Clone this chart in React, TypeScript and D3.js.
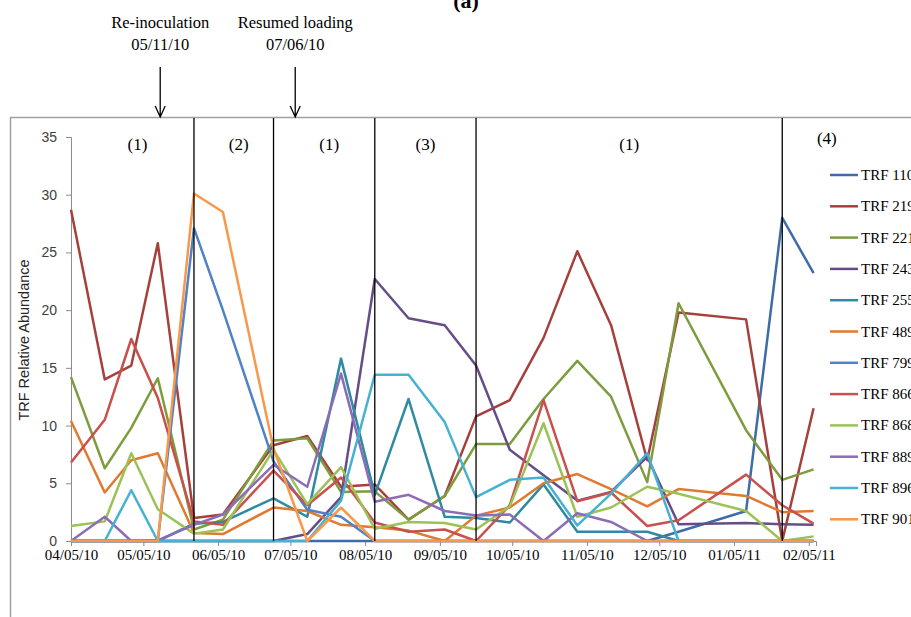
import React, { useEffect, useRef } from 'react';
import * as d3 from 'd3';

// sampling dates
const sampleDates = [
  '2010-04-05', '2010-04-19', '2010-04-30', '2010-05-11', '2010-05-26', '2010-06-07',
  '2010-06-28', '2010-07-12', '2010-07-26', '2010-08-09', '2010-08-23', '2010-09-07',
  '2010-09-20', '2010-10-04', '2010-10-18', '2010-11-01', '2010-11-15', '2010-11-30',
  '2010-12-13', '2011-01-10', '2011-01-25', '2011-02-07',
];

const trf110 = [0, 0, 0, 0, 0, 0, 0, 0, 0, 0, 0, 0, 0, 0, 0, 0, 0, 0, 0.8, 2.6, 28.0, 23.2];
const trf219 = [28.7, 14.0, 15.2, 25.8, 2.0, 2.3, 8.3, 9.1, 4.7, 4.9, 1.85, 3.9, 10.8, 12.2, 17.6, 25.1, 18.7, 7.0, 19.8, 19.2, 0, 11.5];
const trf221 = [14.2, 6.3, 9.8, 14.1, 1.0, 1.85, 8.7, 8.9, 4.25, 4.3, 1.85, 3.9, 8.4, 8.4, 12.3, 15.6, 12.5, 5.1, 20.6, 9.6, 5.3, 6.2];
const trf243 = [0, 0, 0, 0, 0, 0, 0, 0.6, 3.8, 22.7, 19.3, 18.7, 15.2, 7.9, 5.7, 3.5, 4.25, 7.3, 1.45, 1.55, 1.45, 1.4];
const trf255 = [0, 0, 0, 0, 1.5, 1.65, 3.7, 2.1, 15.8, 4.0, 12.3, 2.1, 2.0, 1.6, 4.9, 0.8, 0.8, 0.8, 0, 0, 0, 0];
const trf489 = [10.4, 4.2, 7.0, 7.6, 0.7, 0.6, 2.9, 2.6, 1.4, 1.2, 0.9, 0, 2.2, 2.9, 5.0, 5.8, 4.5, 3.0, 4.5, 3.9, 2.5, 2.6];
const trf799 = [0, 0, 0, 0, 27.1, 20.0, 6.9, 2.7, 2.1, 0, 0, 0, 0, 0, 0, 0, 0, 0, 0, 0, 0, 0];
const trf866 = [6.8, 10.5, 17.5, 12.4, 1.7, 1.4, 6.1, 3.1, 5.5, 1.6, 0.8, 1.0, 0, 3.1, 12.2, 3.45, 4.2, 1.3, 1.8, 5.75, 3.1, 1.5];
const trf868 = [1.3, 1.7, 7.6, 2.75, 0.64, 1.0, 7.9, 3.2, 6.4, 1.07, 1.65, 1.56, 1.0, 3.0, 10.2, 2.1, 2.9, 4.7, 4.1, 2.6, 0, 0.4];
const trf889 = [0, 2.1, 0, 0.06, 1.4, 2.3, 6.6, 4.7, 14.5, 3.4, 4.0, 2.6, 2.2, 2.3, 0, 2.4, 1.65, 0, 0, 0, 0, 0];
const trf896 = [0, 0, 4.4, 0, 0, 0, 0, 0, 3.5, 14.4, 14.4, 10.3, 3.8, 5.3, 5.5, 1.35, 4.1, 7.6, 0, 0, 0, 0];
const trf901 = [0, 0, 0, 0, 30.1, 28.5, 8.0, 0, 2.9, 0, 0, 0, 0, 0, 0, 0, 0, 0, 0, 0, 0, 0];

const seriesNames = ['TRF 110', 'TRF 219', 'TRF 221', 'TRF 243', 'TRF 255', 'TRF 489',
  'TRF 799', 'TRF 866', 'TRF 868', 'TRF 889', 'TRF 896', 'TRF 901'];
const seriesValues = [trf110, trf219, trf221, trf243, trf255, trf489,
  trf799, trf866, trf868, trf889, trf896, trf901];
const seriesColors = ['#3d6ca9', '#a6403d', '#7d9c3e', '#664d88', '#2f8aa2', '#df7a30',
  '#4f82c6', '#c8504d', '#9cc256', '#8c6cb6', '#46b2d2', '#f8984a'];

const monthTicks = ['2010-04-05', '2010-05-05', '2010-06-05', '2010-07-05', '2010-08-05', '2010-09-05',
  '2010-10-05', '2010-11-05', '2010-12-05', '2011-01-05', '2011-02-05'];
const yTicks = [0, 5, 10, 15, 20, 25, 30, 35];

// period boundaries and labels
const periodBreaks = ['2010-05-26', '2010-06-28', '2010-08-09', '2010-09-20', '2011-01-25'];
const periodLabels = ['(1)', '(2)', '(1)', '(3)', '(1)', '(4)'];

const events = [
  { date: '2010-05-12', lines: ['Re-inoculation', '05/11/10'] },
  { date: '2010-07-07', lines: ['Resumed loading', '07/06/10'] },
];

const App = () => {
  const svgRef = useRef<SVGSVGElement>(null);
  const width = 911;
  const height = 617;

  useEffect(() => {
    const svg = d3.select(svgRef.current);
    svg.selectAll('*').remove();

    const parse = d3.timeParse('%Y-%m-%d');
    const fmt = d3.timeFormat('%m/%d/%y');

    const x = d3.scaleTime()
      .domain([parse('2010-04-05')!, parse('2011-02-08')!])
      .range([71, 816]);
    const y = d3.scaleLinear().domain([0, 35]).range([541, 137]);

    // chart area frame
    svg.append('path')
      .attr('d', `M10.5,${height} V117.5 H${width}`)
      .attr('fill', 'none')
      .attr('stroke', '#a0a0a0')
      .attr('stroke-width', 1.5);

    // title (cut off at top, as in the figure)
    svg.append('text')
      .attr('x', 466).attr('y', 8)
      .attr('text-anchor', 'middle')
      .attr('font-family', 'Liberation Serif')
      .attr('font-weight', 'bold')
      .attr('font-size', 22)
      .text('(a)');

    // y axis
    const yAxis = d3.axisLeft(y).tickValues(yTicks).tickSize(5).tickPadding(9);
    const gy = svg.append('g').attr('transform', 'translate(71,0)').call(yAxis);
    gy.select('.domain').attr('stroke', '#8c8c8c');
    gy.selectAll('.tick line').attr('stroke', '#8c8c8c');
    gy.selectAll('.tick text')
      .attr('font-family', 'Liberation Sans')
      .attr('font-size', 14)
      .attr('fill', '#404040');

    // x axis
    const xAxis = d3.axisBottom(x)
      .tickValues(monthTicks.map(d => parse(d)!))
      .tickFormat(d => fmt(d as Date))
      .tickSize(5)
      .tickPadding(3);
    const gx = svg.append('g').attr('transform', 'translate(0,541)').call(xAxis);
    gx.select('.domain').attr('stroke', '#8c8c8c');
    gx.selectAll('.tick line').attr('stroke', '#8c8c8c');
    gx.selectAll('.tick text')
      .attr('font-family', 'Liberation Serif')
      .attr('font-size', 15)
      .attr('fill', '#000');

    // y axis title
    svg.append('text')
      .attr('transform', 'translate(29,340) rotate(-90)')
      .attr('text-anchor', 'middle')
      .attr('font-family', 'Liberation Sans')
      .attr('font-size', 14.5)
      .attr('fill', '#262626')
      .text('TRF Relative Abundance');

    // series lines
    const dates = sampleDates.map(d => parse(d)!);
    const line = d3.line<number>()
      .x((_, i) => x(dates[i]))
      .y(d => y(d));

    seriesValues.forEach((vals, i) => {
      svg.append('path')
        .datum(vals)
        .attr('fill', 'none')
        .attr('stroke', seriesColors[i])
        .attr('stroke-width', 2.5)
        .attr('stroke-linejoin', 'round')
        .attr('d', line);
    });

    // period break lines
    const breaks = periodBreaks.map(d => parse(d)!);
    svg.selectAll('.break')
      .data(breaks)
      .enter()
      .append('line')
      .attr('x1', d => x(d)).attr('x2', d => x(d))
      .attr('y1', 118).attr('y2', 541)
      .attr('stroke', '#000')
      .attr('stroke-width', 1.3);

    // period labels
    const bounds = [parse('2010-04-05')!, ...breaks, parse('2011-03-03')!];
    periodLabels.forEach((lab, i) => {
      const cx = (x(bounds[i]) + x(bounds[i + 1])) / 2 + (i < 3 ? 5 : 0);
      svg.append('text')
        .attr('x', cx)
        .attr('y', i === 5 ? 144 : 150)
        .attr('text-anchor', 'middle')
        .attr('font-family', 'Liberation Serif')
        .attr('font-size', 17)
        .text(lab);
    });

    // event annotations with arrows
    events.forEach(ev => {
      const ex = x(parse(ev.date)!);
      ev.lines.forEach((t, j) => {
        svg.append('text')
          .attr('x', ex)
          .attr('y', 28 + j * 22)
          .attr('text-anchor', 'middle')
          .attr('font-family', 'Liberation Serif')
          .attr('font-size', 16.5)
          .text(t);
      });
      svg.append('path')
        .attr('d', `M${ex},67 V117 M${ex - 5},106 L${ex},117 L${ex + 5},106`)
        .attr('fill', 'none')
        .attr('stroke', '#000')
        .attr('stroke-width', 1.3);
    });

    // legend (runs past the right edge, as in the figure)
    const legend = svg.append('g');
    seriesNames.forEach((name, i) => {
      const ly = 175 + i * 31.3;
      legend.append('line')
        .attr('x1', 830).attr('x2', 858)
        .attr('y1', ly).attr('y2', ly)
        .attr('stroke', seriesColors[i])
        .attr('stroke-width', 2.5);
      legend.append('text')
        .attr('x', 861).attr('y', ly + 5)
        .attr('font-family', 'Liberation Serif')
        .attr('font-size', 15)
        .text(name);
    });
  }, []);

  return (
    <>
      <style>{'body{margin:0}'}</style>
      <svg ref={svgRef} width={width} height={height} style={{ display: 'block', background: '#fff' }} />
    </>
  );
};

export default App;
